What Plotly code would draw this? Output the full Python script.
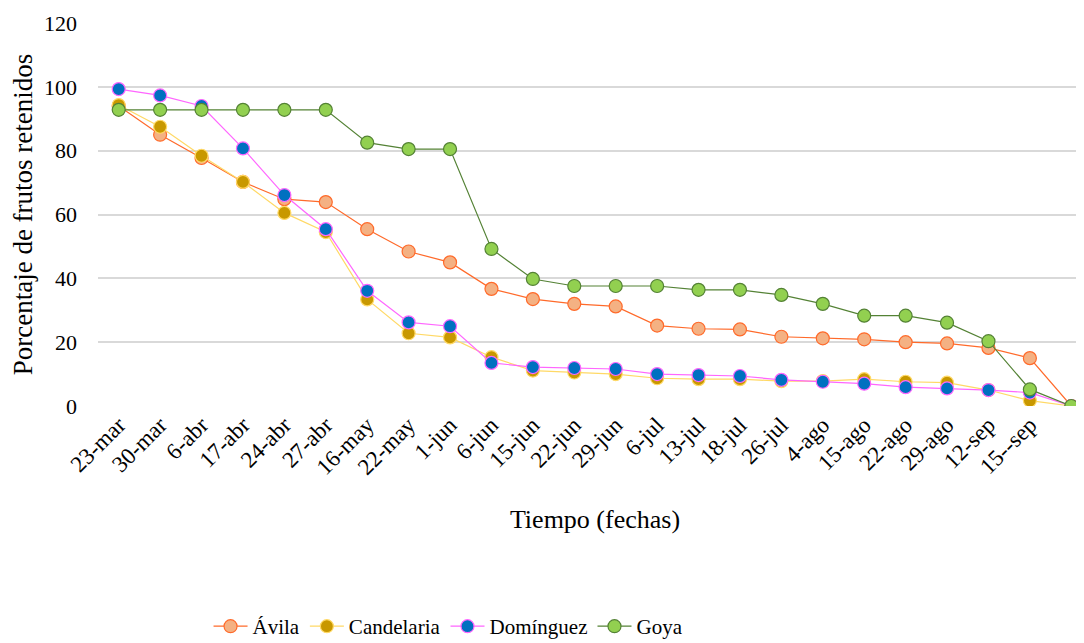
import plotly.graph_objects as go

fechas = ["23-mar", "30-mar", "6-abr", "17-abr", "24-abr", "27-abr", "16-may", "22-may",
          "1-jun", "6-jun", "15-jun", "22-jun", "29-jun", "6-jul", "13-jul", "18-jul",
          "26-jul", "4-ago", "15-ago", "22-ago", "29-ago", "12-sep", "15--sep", ""]

avila = [94.0, 85.0, 77.7, 70.2, 64.8, 63.9, 55.4, 48.4, 45.0, 36.7, 33.5, 32.0,
         31.2, 25.2, 24.2, 24.0, 21.7, 21.2, 20.9, 20.0, 19.6, 18.2, 15.0, 0.0]
candelaria = [94.3, 87.5, 78.4, 70.2, 60.5, 54.5, 33.4, 22.8, 21.5, 15.3, 11.1, 10.5,
              10.0, 8.7, 8.4, 8.4, 7.8, 7.8, 8.4, 7.6, 7.3, 5.0, 1.7, 0.0]
dominguez = [99.3, 97.3, 94.0, 80.7, 66.1, 55.4, 36.1, 26.2, 25.0, 13.5, 12.2, 11.9,
             11.6, 10.0, 9.7, 9.4, 8.2, 7.6, 7.0, 5.9, 5.5, 5.0, 4.2, 0.0]
goya = [92.8, 92.8, 92.8, 92.8, 92.8, 92.8, 82.5, 80.5, 80.5, 49.2, 39.8, 37.6,
        37.6, 37.6, 36.4, 36.4, 34.8, 32.0, 28.3, 28.3, 26.1, 20.3, 5.2, 0.0]

series = [
    ("Ávila", avila, "#FF6A2A", "#F4B183", "#FF6A2A"),
    ("Candelaria", candelaria, "#FFD966", "#C89800", "#FFD966"),
    ("Domínguez", dominguez, "#FF66FF", "#0070C0", "#FF66FF"),
    ("Goya", goya, "#548235", "#92D050", "#548235"),
]

FONT = "Palatino Linotype, Book Antiqua, Palatino, Liberation Serif, serif"

fig = go.Figure()
xs = list(range(len(fechas)))
for name, vals, line_c, fill_c, border_c in series:
    fig.add_trace(go.Scatter(
        x=xs, y=vals, name=name, mode="lines+markers",
        line=dict(color=line_c, width=1.2),
        marker=dict(size=13, color=fill_c, line=dict(color=border_c, width=1.2)),
    ))

fig.update_layout(
    width=1084, height=643,
    margin=dict(l=90, r=0, t=15, b=245),
    plot_bgcolor="white", paper_bgcolor="white",
    font=dict(family=FONT, size=20, color="#000000"),
    showlegend=True,
    legend=dict(orientation="h", xref="container", x=0.185, xanchor="left",
                yref="container", y=0.038, yanchor="middle",
                font=dict(size=21), itemwidth=34, tracegroupgap=0),
)
fig.update_xaxes(
    tickmode="array", tickvals=xs, ticktext=fechas, tickangle=-45,
    range=[-0.5, 23.5], showgrid=False, zeroline=False, showline=False,
    automargin=False, tickfont=dict(size=23),
    title=dict(text="Tiempo (fechas)", font=dict(size=26), standoff=30),
)
fig.update_yaxes(
    range=[0, 120], tickvals=[0, 20, 40, 60, 80, 100, 120],
    showgrid=True, gridcolor="#D9D9D9", gridwidth=1.5, zeroline=False,
    showline=False, automargin=False, tickfont=dict(size=22), ticks="",
    ticklabelstandoff=20,
    title=dict(text="Porcentaje de frutos retenidos", font=dict(size=27), standoff=14),
)

fig.write_html("out.html")
